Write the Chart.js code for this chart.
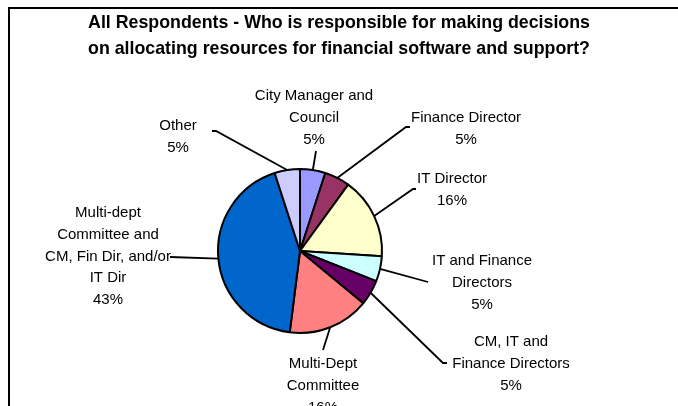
<!DOCTYPE html>
<html>
<head>
<meta charset="utf-8">
<script src="https://cdn.jsdelivr.net/npm/chart.js@4/dist/chart.umd.min.js"></script>
<style>
  html, body { margin: 0; padding: 0; background: #ffffff; }
  #wrap { width: 678px; height: 406px; }
</style>
</head>
<body>
<div id="wrap"><canvas id="pie" width="678" height="406"></canvas></div>
<script>
// Survey answers, in drawing order (clockwise from 12 o'clock)
const categories = [
  ['City Manager and', 'Council'],
  ['Finance Director'],
  ['IT Director'],
  ['IT and Finance', 'Directors'],
  ['CM, IT and', 'Finance Directors'],
  ['Multi-Dept', 'Committee'],
  ['Multi-dept', 'Committee and', 'CM, Fin Dir, and/or', 'IT Dir'],
  ['Other']
];
// Share of respondents, percent
const shares = [5, 5, 16, 5, 5, 16, 43, 5];

const sliceColors = ['#9999FF', '#993366', '#FFFFCC', '#CCFFFF', '#660066', '#FF8080', '#0066CC', '#CCCCFF'];

const titleLines = [
  'All Respondents - Who is responsible for making decisions',
  'on allocating resources for financial software and support?'
];

// Label placement relative to the pie centre: [text centre x, first line y]
const labelSpots = [
  [14, -155], [166, -133], [152, -72], [182, 10],
  [211, 91], [23, 113], [-192, -38], [-122, -125]
];
// Leader line end points relative to the pie centre
const leaderEnds = [
  [[16, -100]],
  [[106, -124], [110, -124]],
  [[113, -62], [116, -62]],
  [[128, 31]],
  [[143, 112], [147, 112]],
  [[23, 99]],
  [[-130, 6]],
  [[-84, -120], [-88, -120]]
];

const LINE_H = 21.7;

const framePlugin = {
  id: 'frame',
  beforeDraw(chart) {
    const ctx = chart.ctx;
    ctx.save();
    ctx.fillStyle = '#ffffff';
    ctx.fillRect(0, 0, chart.width, chart.height);
    ctx.strokeStyle = '#000000';
    ctx.lineWidth = 2;
    ctx.strokeRect(9, 8, chart.width + 40, chart.height + 40);
    ctx.fillStyle = '#000000';
    ctx.font = 'bold 17.8px "Liberation Sans", Arial, sans-serif';
    ctx.textAlign = 'center';
    ctx.textBaseline = 'middle';
    ctx.fillText(titleLines[0], 339, 23);
    ctx.fillText(titleLines[1], 339, 49);
    ctx.restore();
  }
};

const labelPlugin = {
  id: 'sliceLabels',
  afterDatasetsDraw(chart) {
    const ctx = chart.ctx;
    const arcs = chart.getDatasetMeta(0).data;
    ctx.save();
    ctx.strokeStyle = '#000000';
    ctx.lineWidth = 1.8;
    ctx.fillStyle = '#000000';
    ctx.font = '15px "Liberation Sans", Arial, sans-serif';
    ctx.textAlign = 'center';
    ctx.textBaseline = 'middle';
    arcs.forEach((arc, i) => {
      const p = arc.getProps(['x', 'y', 'startAngle', 'endAngle', 'outerRadius'], true);
      const mid = (p.startAngle + p.endAngle) / 2;
      const sx = p.x + Math.cos(mid) * p.outerRadius;
      const sy = p.y + Math.sin(mid) * p.outerRadius;
      ctx.beginPath();
      ctx.moveTo(sx, sy);
      leaderEnds[i].forEach(([dx, dy]) => ctx.lineTo(p.x + dx, p.y + dy));
      ctx.stroke();
      const lines = categories[i].concat([shares[i] + '%']);
      const [lx, ly] = labelSpots[i];
      lines.forEach((t, k) => ctx.fillText(t, p.x + lx, p.y + ly + k * LINE_H));
    });
    ctx.restore();
  }
};

new Chart(document.getElementById('pie'), {
  type: 'pie',
  data: {
    labels: categories.map(c => c.join(' ')),
    datasets: [{
      data: shares,
      backgroundColor: sliceColors,
      borderColor: '#000000',
      borderWidth: 2,
      radius: 82
    }]
  },
  options: {
    responsive: false,
    animation: false,
    devicePixelRatio: 1,
    layout: { padding: { left: 0, right: 78, top: 96, bottom: 0 } },
    plugins: {
      legend: { display: false },
      title: { display: false },
      tooltip: { enabled: false }
    }
  },
  plugins: [framePlugin, labelPlugin]
});
</script>
</body>
</html>
